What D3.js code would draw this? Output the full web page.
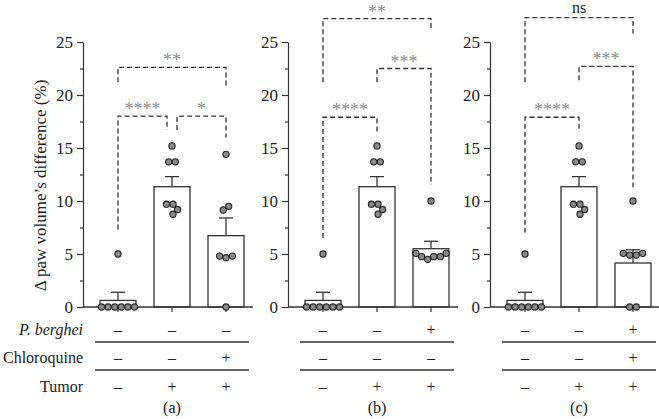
<!DOCTYPE html>
<html><head><meta charset="utf-8">
<script src="https://cdn.jsdelivr.net/npm/d3@7"></script>
<style>body{margin:0;background:#fff}svg{display:block}</style>
</head><body><div id="chart"></div>
<script>
// ---------- data ----------
const panelLabels = ["(a)", "(b)", "(c)"];
const rowLabels = ["P. berghei", "Chloroquine", "Tumor"];
const yTicks = [0, 5, 10, 15, 20, 25];

const meansA = [0.62, 11.35, 6.73];
const semsA  = [0.77, 0.95, 1.67];
const meansB = [0.62, 11.35, 5.5];
const semsB  = [0.77, 0.95, 0.7];
const meansC = [0.62, 11.35, 4.15];
const semsC  = [0.77, 0.95, 1.25];

const control = [0, 0, 0, 0, 0, 0, 5];
const tumor   = [15.2, 13.7, 13.7, 9.7, 9.7, 8.75, 9.2];
const pointsA = [control, tumor, [14.4, 9.5, 9.15, 4.8, 4.65, 4.8, 0]];
const pointsB = [control, tumor, [10, 4.75, 5.06, 4.75, 5.06, 4.5, 4.75]];
const pointsC = [control, tumor, [10, 5.06, 4.9, 4.9, 5.06, 0, 0]];

const pbergheiA = ["–", "–", "–"], chloroA = ["–", "–", "+"], tumorRowA = ["–", "+", "+"];
const pbergheiB = ["–", "–", "+"], chloroB = ["–", "–", "–"], tumorRowB = ["–", "+", "+"];
const pbergheiC = ["–", "–", "+"], chloroC = ["–", "–", "+"], tumorRowC = ["–", "+", "+"];

// brackets: from group, to group, bar level, left leg end, right leg end, label
const bracketsA = [
  {from: 0, to: 1, level: 18.0, left: 7.3, right: 16.7, label: "****"},
  {from: 1, to: 2, level: 18.0, left: 16.7, right: 16.0, label: "*"},
  {from: 0, to: 2, level: 22.6, left: 21.2, right: 20.7, label: "**"}
];
const bracketsB = [
  {from: 0, to: 1, level: 17.9, left: 6.5, right: 16.5, label: "****"},
  {from: 1, to: 2, level: 22.5, left: 21.2, right: 11.5, label: "***"},
  {from: 0, to: 2, level: 27.2, left: 21.2, right: 26.3, label: "**"}
];
const bracketsC = [
  {from: 0, to: 1, level: 17.9, left: 7.0, right: 16.5, label: "****"},
  {from: 1, to: 2, level: 22.7, left: 21.4, right: 11.3, label: "***"},
  {from: 0, to: 2, level: 27.3, left: 21.2, right: 25.8, label: "ns"}
];

const panels = [
  {label: panelLabels[0], means: meansA, sems: semsA, points: pointsA, rows: [pbergheiA, chloroA, tumorRowA], brackets: bracketsA},
  {label: panelLabels[1], means: meansB, sems: semsB, points: pointsB, rows: [pbergheiB, chloroB, tumorRowB], brackets: bracketsB},
  {label: panelLabels[2], means: meansC, sems: semsC, points: pointsC, rows: [pbergheiC, chloroC, tumorRowC], brackets: bracketsC}
];

// ---------- layout ----------
const W = 659, H = 419;
const FONT = "'Liberation Serif','Times New Roman',serif";
const ink = "#333";
const axisX = [83, 288, 490];
const y = d3.scaleLinear().domain([0, 25]).range([307, 42]);
const rowY = [329, 357, 386];
const barW = 36, capW = 14, R = 3.1, D = 6.6;

const svg = d3.select("#chart").append("svg").attr("width", W).attr("height", H)
  .style("font-family", FONT);

// y title
svg.append("text")
  .attr("transform", `translate(46,${(y(0) + y(25)) / 2 + 11}) rotate(-90)`)
  .attr("text-anchor", "middle").attr("font-size", 17).attr("fill", "#222")
  .text("Δ paw volume’s difference (%)");

// row labels
rowLabels.forEach((t, i) => {
  svg.append("text").attr("x", 83).attr("y", rowY[i] + 5.5)
    .attr("text-anchor", "end").attr("font-size", 16).attr("fill", "#222")
    .attr("font-style", i === 0 ? "italic" : "normal").text(t);
});

function beeswarm(vals, yScale) {
  const order = vals.map((v, i) => i).sort((a, b) => vals[a] - vals[b]);
  const placed = [];
  order.forEach(i => {
    const py = yScale(vals[i]);
    const cands = [0];
    placed.forEach(p => {
      const dy = Math.abs(p.py - py);
      if (dy < D) { const dx = Math.sqrt(D * D - dy * dy); cands.push(p.dx + dx, p.dx - dx); }
    });
    const ok = cands.filter(c => placed.every(p => Math.hypot(p.dx - c, p.py - py) >= D - 1e-6));
    ok.sort((a, b) => Math.abs(a) - Math.abs(b) || b - a);
    placed.push({i, py, dx: ok[0], v: vals[i]});
  });
  const seen = new Set();
  placed.forEach(p => {
    if (seen.has(p)) return;
    const cl = [p]; seen.add(p);
    for (let k = 0; k < cl.length; k++) {
      placed.forEach(q => {
        if (!seen.has(q) && Math.hypot(q.dx - cl[k].dx, q.py - cl[k].py) < D + 0.6) { seen.add(q); cl.push(q); }
      });
    }
    const mid = (d3.min(cl, c => c.dx) + d3.max(cl, c => c.dx)) / 2;
    cl.forEach(c => c.dx -= mid);
  });
  return placed;
}

panels.forEach((P, pi) => {
  const ax = axisX[pi];
  const x = d3.scalePoint().domain([0, 1, 2]).range([ax + 35, ax + 143]);
  const g = svg.append("g");

  // y axis
  const yAxis = d3.axisLeft(y).tickValues(yTicks).tickSize(6).tickSizeOuter(0).tickPadding(4);
  const ga = g.append("g").attr("transform", `translate(${ax},0)`).call(yAxis);
  ga.attr("font-family", FONT);
  ga.selectAll("text").attr("font-size", 17).attr("fill", "#222");
  ga.selectAll("line,path").attr("stroke", ink).attr("stroke-width", 1.2);
  const minor = d3.axisLeft(y).tickValues([2.5, 7.5, 12.5, 17.5, 22.5]).tickSize(3).tickSizeOuter(0).tickFormat("");
  const gm = g.append("g").attr("transform", `translate(${ax},0)`).call(minor);
  gm.select("path").remove();
  gm.selectAll("line").attr("stroke", ink).attr("stroke-width", 1.2);

  // bars
  [0, 1, 2].forEach(k => {
    const cx = x(k);
    g.append("rect").attr("x", cx - barW / 2).attr("y", y(P.means[k]))
      .attr("width", barW).attr("height", y(0) - y(P.means[k]))
      .attr("fill", "#fff").attr("stroke", ink).attr("stroke-width", 1.3);
    const top = y(P.means[k] + P.sems[k]);
    g.append("line").attr("x1", cx).attr("x2", cx).attr("y1", y(P.means[k])).attr("y2", top)
      .attr("stroke", ink).attr("stroke-width", 1.3);
    g.append("line").attr("x1", cx - capW / 2).attr("x2", cx + capW / 2).attr("y1", top).attr("y2", top)
      .attr("stroke", ink).attr("stroke-width", 1.3);
  });

  // x axis
  g.append("line").attr("x1", ax).attr("x2", ax + 170).attr("y1", y(0)).attr("y2", y(0))
    .attr("stroke", ink).attr("stroke-width", 1.3);
  [0, 1, 2].forEach(k => {
    g.append("line").attr("x1", x(k)).attr("x2", x(k)).attr("y1", y(0)).attr("y2", y(0) + 5)
      .attr("stroke", ink).attr("stroke-width", 1.2);
  });

  // points
  [0, 1, 2].forEach(k => {
    beeswarm(P.points[k], y).forEach(p => {
      g.append("circle").attr("cx", x(k) + p.dx).attr("cy", p.py).attr("r", R)
        .attr("fill", "#8a8a8a").attr("stroke", "#222").attr("stroke-width", 1.1);
    });
  });

  // brackets
  P.brackets.forEach(b => {
    let xl = x(b.from), xr = x(b.to);
    P.brackets.forEach(o => {
      if (o === b || Math.abs(o.level - b.level) > 0.5) return;
      if (o.from === b.to) xr -= 5;
      if (o.to === b.from) xl += 5;
    });
    g.append("path")
      .attr("d", `M${xl},${y(b.left)}V${y(b.level)}H${xr}V${y(b.right)}`)
      .attr("fill", "none").attr("stroke", ink).attr("stroke-width", 1.3)
      .attr("stroke-dasharray", "5,3");
    const ns = b.label === "ns";
    g.append("text").attr("x", (xl + xr) / 2).attr("y", y(b.level) - (ns ? 5 : 1))
      .attr("text-anchor", "middle").attr("font-size", ns ? 16 : 18)
      .attr("fill", ns ? "#222" : "#8c8c8c").text(b.label);
  });

  // condition table
  P.rows.forEach((row, ri) => {
    row.forEach((s, k) => {
      g.append("text").attr("x", x(k)).attr("y", rowY[ri] + 5.5).attr("text-anchor", "middle")
        .attr("font-size", 16).attr("fill", "#222").text(s);
    });
  });
  [342, 370].forEach(ly => {
    g.append("line").attr("x1", ax + 12).attr("x2", ax + 166).attr("y1", ly).attr("y2", ly)
      .attr("stroke", ink).attr("stroke-width", 1.3);
  });
  g.append("text").attr("x", x(1)).attr("y", 413).attr("text-anchor", "middle")
    .attr("font-size", 16).attr("fill", "#222").text(P.label);
});
</script></body></html>
